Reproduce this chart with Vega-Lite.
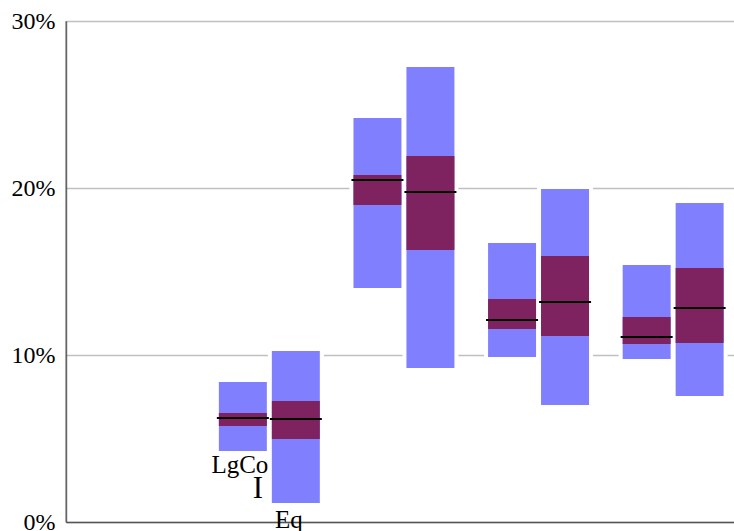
{
  "$schema": "https://vega.github.io/schema/vega-lite/v6.json",
  "autosize": "none",
  "width": 668,
  "height": 501,
  "padding": {"left": 66, "top": 21, "right": 0, "bottom": 9},
  "config": {"view": {"stroke": null}, "font": "Liberation Serif"},
  "datasets": {
    "ranges": [
      {"cat": "B", "s": "1", "lo": 0.0425, "hi": 0.0838, "qlo": 0.0575, "qhi": 0.0653, "med": 0.0623},
      {"cat": "B", "s": "2", "lo": 0.0114, "hi": 0.1024, "qlo": 0.0497, "qhi": 0.0725, "med": 0.0617},
      {"cat": "C", "s": "1", "lo": 0.1401, "hi": 0.2419, "qlo": 0.1898, "qhi": 0.2078, "med": 0.2048},
      {"cat": "C", "s": "2", "lo": 0.0922, "hi": 0.2725, "qlo": 0.1629, "qhi": 0.2192, "med": 0.1976},
      {"cat": "D", "s": "1", "lo": 0.0988, "hi": 0.1671, "qlo": 0.1156, "qhi": 0.1335, "med": 0.1210},
      {"cat": "D", "s": "2", "lo": 0.0701, "hi": 0.1994, "qlo": 0.1114, "qhi": 0.1593, "med": 0.1317},
      {"cat": "E", "s": "1", "lo": 0.0976, "hi": 0.1539, "qlo": 0.1066, "qhi": 0.1228, "med": 0.1108},
      {"cat": "E", "s": "2", "lo": 0.0754, "hi": 0.1910, "qlo": 0.1072, "qhi": 0.1521, "med": 0.1281}
    ],
    "labels": [
      {"cat": "B", "s": "1", "t": "LgCo", "v": 0.0293},
      {"cat": "B", "s": "1", "t": "I", "v": 0.0144},
      {"cat": "B", "s": "2", "t": "Eq", "v": -0.0036}
    ]
  },
  "encoding": {
    "x": {
      "field": "cat", "type": "nominal",
      "scale": {"domain": ["A", "B", "C", "D", "E"], "range": [0, 673], "paddingInner": 0, "paddingOuter": 0},
      "axis": {"orient": "bottom", "labels": false, "ticks": false, "title": null, "domainColor": "#555555", "domainWidth": 1.3}
    },
    "xOffset": {
      "field": "s", "type": "nominal",
      "scale": {"domain": ["1", "2"], "paddingInner": 0.0943, "paddingOuter": 0.3175, "align": 0.543}
    }
  },
  "layer": [
    {
      "data": {"name": "ranges"},
      "mark": {"type": "bar", "fill": "white", "stroke": "white", "strokeWidth": 8},
      "encoding": {
        "y": {
          "field": "lo", "type": "quantitative",
          "scale": {"domain": [0, 0.3], "nice": false, "zero": false},
          "axis": {"title": null, "format": ".0%", "values": [0, 0.1, 0.2, 0.3], "ticks": false, "labelPadding": 11, "labelFontSize": 24, "labelFont": "Liberation Serif", "labelColor": "#000000", "domainColor": "#222222", "domainWidth": 1.3, "grid": true, "gridColor": "#c0c0c0", "gridWidth": 1.3}
        },
        "y2": {"field": "hi"}
      }
    },
    {
      "data": {"name": "ranges"},
      "mark": {"type": "bar", "color": "#8080ff"},
      "encoding": {
        "y": {"field": "lo", "type": "quantitative"},
        "y2": {"field": "hi"}
      }
    },
    {
      "data": {"name": "ranges"},
      "mark": {"type": "bar", "color": "#7f2360"},
      "encoding": {
        "y": {"field": "qlo", "type": "quantitative"},
        "y2": {"field": "qhi"}
      }
    },
    {
      "data": {"name": "ranges"},
      "mark": {"type": "tick", "color": "#000000", "size": 52, "thickness": 2, "opacity": 1},
      "encoding": {
        "y": {"field": "med", "type": "quantitative"}
      }
    },
    {
      "data": {"name": "labels"},
      "transform": [{"filter": "datum.t === 'LgCo'"}],
      "mark": {"type": "text", "fontSize": 25, "font": "Liberation Serif", "baseline": "alphabetic", "align": "center", "dx": -3, "color": "#000000"},
      "encoding": {
        "y": {"field": "v", "type": "quantitative"},
        "text": {"field": "t"}
      }
    },
    {
      "data": {"name": "labels"},
      "transform": [{"filter": "datum.t === 'I'"}],
      "mark": {"type": "text", "fontSize": 31, "font": "Liberation Serif", "baseline": "alphabetic", "align": "center", "dx": 15, "color": "#000000"},
      "encoding": {
        "y": {"field": "v", "type": "quantitative"},
        "text": {"field": "t"}
      }
    },
    {
      "data": {"name": "labels"},
      "transform": [{"filter": "datum.t === 'Eq'"}],
      "mark": {"type": "text", "fontSize": 25, "font": "Liberation Serif", "baseline": "alphabetic", "align": "center", "dx": -7, "color": "#000000"},
      "encoding": {
        "y": {"field": "v", "type": "quantitative"},
        "text": {"field": "t"}
      }
    },
    {
      "data": {"values": [{}]},
      "mark": {"type": "rule", "color": "#888888", "strokeWidth": 1.3},
      "encoding": {
        "y": {"datum": 0.3, "type": "quantitative"}
      }
    }
  ]
}
